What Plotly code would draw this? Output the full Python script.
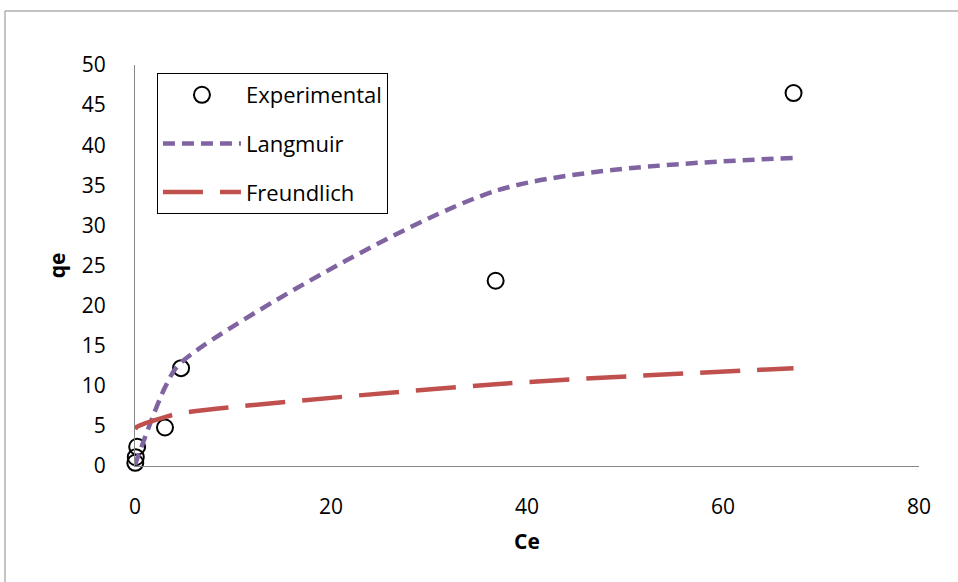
import plotly.graph_objects as go

# Equilibrium concentration and adsorbed amount
ce = [0.03, 0.08, 0.22, 3.06, 4.7, 36.8, 67.2]
qe_experimental = [0.4, 1.1, 2.4, 4.8, 12.2, 23.1, 46.5]
qe_langmuir = [0.1, 0.4, 0.9, 9.8, 12.9, 34.3, 38.4]
qe_freundlich = [4.6, 4.7, 4.9, 6.1, 6.6, 10.2, 12.2]

x_ticks = [0, 20, 40, 60, 80]
y_ticks = [0, 5, 10, 15, 20, 25, 30, 35, 40, 45, 50]

FONT = "Open Sans"
AXIS_GRAY = "#868686"

fig = go.Figure()

fig.add_trace(go.Scatter(
    x=ce, y=qe_experimental, mode="markers", name="Experimental",
    legendgroup="exp", cliponaxis=False,
    marker=dict(symbol="circle-open", size=16, color="black",
                line=dict(width=2, color="black")),
))
fig.add_trace(go.Scatter(
    x=ce, y=qe_langmuir, mode="lines", name="Langmuir",
    legendgroup="lang", cliponaxis=False,
    line=dict(color="#8064A2", width=4.5, dash="12px,7px",
              shape="spline", smoothing=0.8),
))
fig.add_trace(go.Scatter(
    x=ce, y=qe_freundlich, mode="lines", name="Freundlich",
    legendgroup="freu", cliponaxis=False,
    line=dict(color="#C0504D", width=4.5, dash="40px,17px",
              shape="spline", smoothing=0.8),
))

fig.update_layout(
    width=958, height=582,
    margin=dict(l=135, r=39, t=65, b=116),
    paper_bgcolor="white", plot_bgcolor="white",
    font=dict(family=FONT, size=21, color="black"),
    showlegend=True,
    legend=dict(
        x=0.028, y=0.98, xanchor="left", yanchor="top",
        bgcolor="white", bordercolor="black", borderwidth=1,
        traceorder="grouped", tracegroupgap=17,
        itemwidth=78,
        font=dict(family=FONT, size=22, color="black"),
    ),
    shapes=[dict(
        type="rect", xref="paper", yref="paper",
        x0=-0.1658, x1=1.3, y0=-0.6, y1=1.1347,
        line=dict(color="#898989", width=1), layer="below",
    )],
)

fig.update_xaxes(
    range=[0, 80], tickvals=x_ticks, ticktext=[str(v) for v in x_ticks],
    showgrid=False, zeroline=False,
    showline=True, linecolor=AXIS_GRAY, linewidth=1.3,
    ticks="", ticklabelstandoff=22,
    tickfont=dict(family=FONT, size=21),
    title=dict(text="<b>Ce</b>", font=dict(family=FONT, size=21), standoff=14),
)
fig.update_yaxes(
    range=[0, 50], tickvals=y_ticks, ticktext=[str(v) for v in y_ticks],
    showgrid=False, zeroline=False,
    showline=True, linecolor=AXIS_GRAY, linewidth=1.3,
    ticks="", ticklabelstandoff=24,
    tickfont=dict(family=FONT, size=21),
    title=dict(text="<b>qe</b>", font=dict(family=FONT, size=21), standoff=10),
)

fig.write_html("out.html")
